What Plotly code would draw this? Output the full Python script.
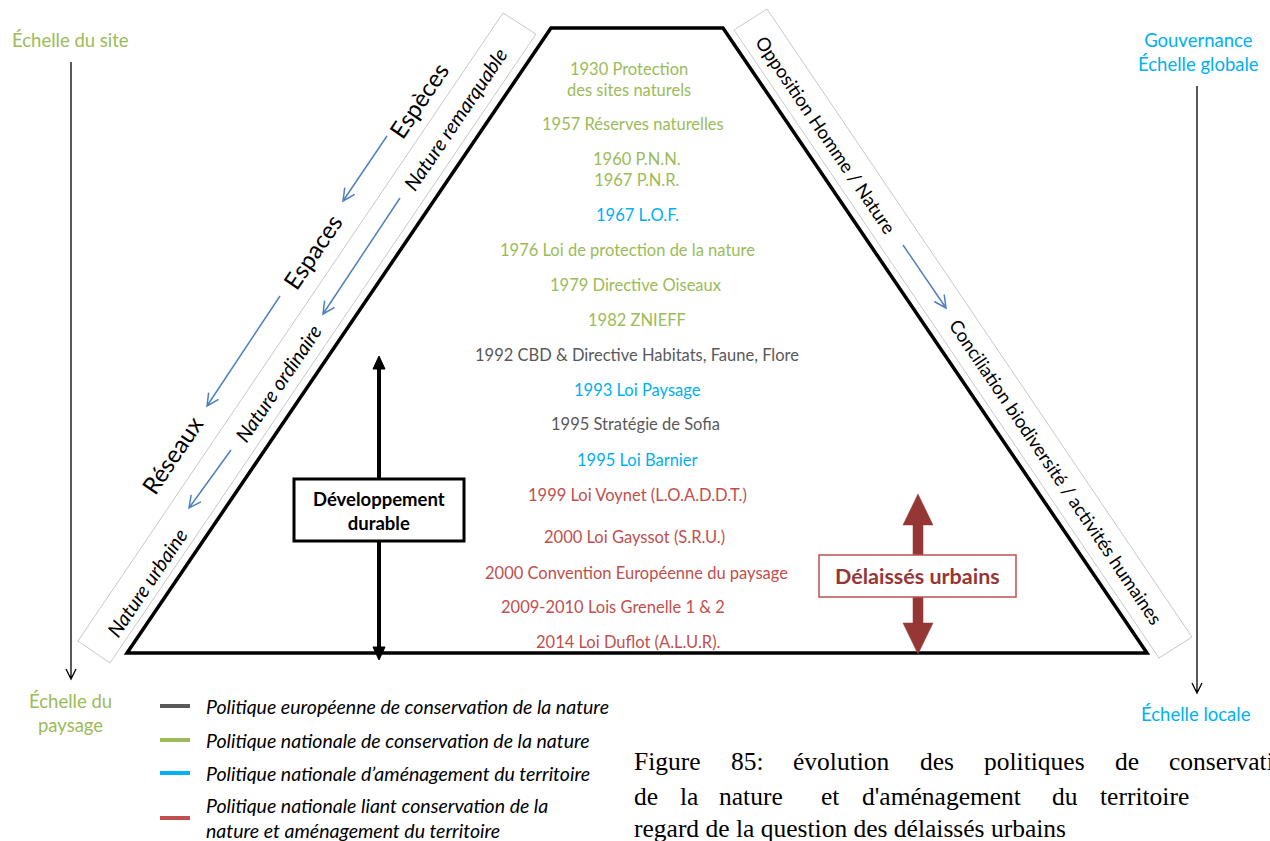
import plotly.graph_objects as go

W, H = 1270, 841

# ---------------- data ----------------
events = [
    "1930 Protection<br>des sites naturels",
    "1957 Réserves naturelles",
    "1960 P.N.N.<br>1967 P.N.R.",
    "1967 L.O.F.",
    "1976 Loi de protection de la nature",
    "1979 Directive Oiseaux",
    "1982 ZNIEFF",
    "1992 CBD & Directive Habitats, Faune, Flore",
    "1993 Loi Paysage",
    "1995 Stratégie de Sofia",
    "1995 Loi Barnier",
    "1999 Loi Voynet (L.O.A.D.D.T.)",
    "2000 Loi Gayssot (S.R.U.)",
    "2000 Convention Européenne du paysage",
    "2009-2010 Lois Grenelle 1 & 2",
    "2014 Loi Duflot (A.L.U.R).",
]
event_policy = ["nat_cons", "nat_cons", "nat_cons", "nat_amen", "nat_cons", "nat_cons",
                "nat_cons", "eur", "nat_amen", "eur", "nat_amen", "link", "link",
                "link", "link", "link"]

policy_keys = ["eur", "nat_cons", "nat_amen", "link"]
policy_labels = [
    "Politique européenne de conservation de la nature",
    "Politique nationale de conservation de la nature",
    "Politique nationale d’aménagement du territoire",
    "Politique nationale liant conservation de la<br>nature et aménagement du territoire",
]
policy_colors = {"eur": "#595959", "nat_cons": "#9BBB59", "nat_amen": "#00B0F0", "link": "#C0504D"}

left_scale_top = "Échelle du site"
left_scale_bottom = "Échelle du<br>paysage"
right_scale_top = "Gouvernance<br>Échelle globale"
right_scale_bottom = "Échelle locale"
left_big_labels = ["Espèces", "Espaces", "Réseaux"]
left_band_labels = ["Nature remarquable", "Nature ordinaire", "Nature urbaine"]
right_band_labels = ["Opposition Homme / Nature", "Conciliation biodiversité / activités humaines"]
box_dd = "Développement<br>durable"
box_du = "Délaissés urbains"
caption_line1 = ["Figure", "85:", "évolution", "des", "politiques", "de", "conservation"]
caption_line2 = ["de", "la", "nature", "et", "d'aménagement", "du", "territoire", "au"]
caption_line3 = "regard de la question des délaissés urbains"

# ---------------- layout positions ----------------
event_pos = [(629, 79), (633, 124), (637, 169), (637, 215), (627, 250), (636, 285),
             (637, 320), (637, 355), (637, 390), (635, 424), (637, 460), (637, 495),
             (634, 537), (636, 573), (613, 607), (628, 642)]
legend_y = [706, 740, 773, 818]
cap_x0 = 632
cap1_x = [632, 729, 791, 918, 982, 1113, 1167]
cap2_x = [632, 678, 717, 819, 860, 1050, 1098, 1275]

FONT = "Lato"
BLUE_ARROW = "#4F81BD"
DARK_RED = "#953735"

shapes = []
annotations = []


def add_path(path, color="black", width=1, fill=None):
    d = dict(type="path", path=path, xref="x", yref="y", line=dict(color=color, width=width))
    d["fillcolor"] = fill if fill else "rgba(0,0,0,0)"
    shapes.append(d)


def v_arrow(x0, y0, x1, y1, color, width, hl=11, hw=6):
    dx, dy = x1 - x0, y1 - y0
    L = (dx * dx + dy * dy) ** 0.5
    ux, uy = dx / L, dy / L
    px, py = -uy, ux
    bx, by = x1 - ux * hl, y1 - uy * hl
    p = (f"M{x0},{y0} L{x1},{y1} M{bx + px * hw},{by + py * hw} L{x1},{y1} "
         f"L{bx - px * hw},{by - py * hw}")
    add_path(p, color, width)


def text(x, y, s, size=15, color="black", angle=0, xanchor="center", family=FONT,
         bold=False, italic=False, yanchor="middle", align="center"):
    if bold:
        s = f"<b>{s}</b>"
    if italic:
        s = f"<i>{s}</i>"
    annotations.append(dict(x=x, y=y, xref="x", yref="y", text=s, showarrow=False,
                            textangle=angle, xanchor=xanchor, yanchor=yanchor, align=align,
                            font=dict(family=family, size=size, color=color)))


# bands
add_path("M503,13 L536,34 L110,663 L78,641 Z", "#C8C8C8", 1)
add_path("M734,30 L767,9 L1192,637 L1159,658 Z", "#C8C8C8", 1)
# trapezoid
add_path("M127,653 L551,28 L723,28 L1147,653 Z", "black", 3.5)

# scale axes
v_arrow(71, 62, 71, 679, "black", 1.3, hl=10, hw=5)
v_arrow(1197, 86, 1197, 693, "black", 1.3, hl=10, hw=5)

# blue arrows
for (a, b, c, d) in [(387, 136, 343, 201), (280, 296, 207, 406), (400, 198, 323, 314),
                     (231, 450, 189, 508), (903, 245, 946, 308)]:
    v_arrow(a, b, c, d, BLUE_ARROW, 1.5, hl=12, hw=6)

# Développement durable arrow + box
add_path("M379,366 L379,649", "black", 4)
add_path("M379,356 L373,369 L385,369 Z", "black", 1, fill="black")
add_path("M379,660 L373,647 L385,647 Z", "black", 1, fill="black")
shapes.append(dict(type="rect", x0=294, y0=479, x1=464, y1=541, xref="x", yref="y",
                   line=dict(color="black", width=3), fillcolor="white"))
text(379, 511, box_dd, size=18.5, bold=True)

# Délaissés urbains arrow + box
add_path("M913,523 L923,523 L923,625 L913,625 Z", DARK_RED, 0.5, fill=DARK_RED)
add_path("M918,494 L903,525 L933,525 Z", DARK_RED, 0.5, fill=DARK_RED)
add_path("M903,623 L933,623 L918,654 Z", DARK_RED, 0.5, fill=DARK_RED)
shapes.append(dict(type="rect", x0=819, y0=555, x1=1016, y1=597, xref="x", yref="y",
                   line=dict(color="#C0504D", width=1.5), fillcolor="white"))
text(917, 576, box_du, size=21.5, color=DARK_RED, bold=True)

# timeline events
for (x, y), s, k in zip(event_pos, events, event_policy):
    text(x, y, s, size=16.5, color=policy_colors[k])

# scale labels
text(70, 40, left_scale_top, size=18.5, color="#9BBB59")
text(70, 713, left_scale_bottom, size=18.5, color="#9BBB59")
text(1198, 52, right_scale_top, size=18.5, color="#00B0F0")
text(1196, 714, right_scale_bottom, size=18.5, color="#00B0F0")

# rotated labels
ang = 55.9
for (x, y), s in zip([(418, 100), (312, 251), (171, 455)], left_big_labels):
    text(x, y, s, size=24, angle=-ang)
for (x, y), s in zip([(455, 119), (278, 383), (147, 582)], left_band_labels):
    text(x, y, s, size=20, angle=-ang, italic=True)
for (x, y), s in zip([(826, 135), (1056, 472)], right_band_labels):
    text(x, y, s, size=18.5, angle=ang)

# legend
for yy, k, lab in zip(legend_y, policy_keys, policy_labels):
    add_path(f"M160,{yy} L190,{yy}", policy_colors[k], 4)
    text(204, yy, lab, size=19.5, italic=True, xanchor="left", align="left")

# caption (justified paragraph, cut by the right edge as in the source)
SERIF = "Liberation Serif"
for x, w in zip(cap1_x, caption_line1):
    text(x, 761, w, size=25.5, family=SERIF, xanchor="left")
for x, w in zip(cap2_x, caption_line2):
    text(x, 796, w, size=25.5, family=SERIF, xanchor="left")
text(cap_x0, 828, caption_line3, size=25.5, family=SERIF, xanchor="left")

fig = go.Figure()
fig.update_layout(
    width=W, height=H, margin=dict(l=0, r=0, t=0, b=0),
    paper_bgcolor="white", plot_bgcolor="white",
    xaxis=dict(range=[0, W], visible=False, fixedrange=True),
    yaxis=dict(range=[H, 0], visible=False, fixedrange=True),
    shapes=shapes, annotations=annotations, showlegend=False,
)
fig.write_html("out.html", config={"displayModeBar": False},
               post_script="document.body.style.margin='0px';")
